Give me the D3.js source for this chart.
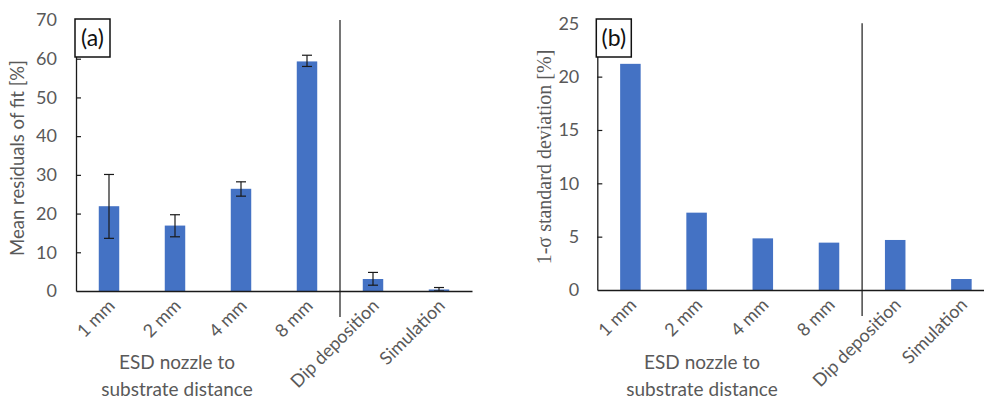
<!DOCTYPE html>
<html><head><meta charset="utf-8">
<script src="https://cdn.jsdelivr.net/npm/d3@7"></script>
<style>body{margin:0;background:#fff}svg{display:block}</style>
</head><body>
<svg id="c" width="984" height="400"></svg>
<script>
const categories = ["1 mm","2 mm","4 mm","8 mm","Dip deposition","Simulation"];
const meanResiduals = [21.9, 16.9, 26.4, 59.3, 3.1, 0.4];
const errLow = [13.6, 14.0, 24.5, 58.0, 1.5, 0.0];
const errHigh = [30.1, 19.7, 28.2, 60.9, 4.8, 0.9];
const stdDev = [21.2, 7.25, 4.84, 4.44, 4.69, 1.03];
const ticksA = [0,10,20,30,40,50,60,70];
const ticksB = [0,5,10,15,20,25];

const svg = d3.select("#c");
const grey = "#595959", blue = "#4472C4";
const sans = "Lato, 'Open Sans', sans-serif";

function panel(o){
  const g = svg.append("g");
  const x = d3.scaleBand().domain(categories).range([o.x0, o.x1]).paddingInner(0.69).paddingOuter(0.345);
  const y = d3.scaleLinear().domain([0, o.ymax]).range([o.y0, o.yt]);
  const ya = g.append("g").attr("transform", `translate(${o.x0},0)`)
    .call(d3.axisLeft(y).tickValues(o.ticks).tickSizeInner(-5).tickSizeOuter(0).tickPadding(o.tp));
  ya.select(".domain").attr("stroke","#1a1a1a").attr("stroke-width",1.3);
  ya.selectAll(".tick line").attr("stroke","#1a1a1a").attr("stroke-width",1.2);
  ya.selectAll(".tick").filter(d=>d===0).select("line").remove();
  ya.selectAll("text").attr("fill",grey).style("font-family",sans).style("font-size","18px");
  g.selectAll("rect.bar").data(o.values).join("rect").attr("class","bar")
    .attr("x",(d,i)=>x(categories[i])).attr("width",x.bandwidth())
    .attr("y",d=>y(d)).attr("height",d=>o.y0-y(d)).attr("fill",blue);
  if(o.lo){
    const eg = g.append("g").attr("stroke","#1a1a1a").attr("stroke-width",1.2);
    categories.forEach((c,i)=>{
      const cx = x(c)+x.bandwidth()/2;
      eg.append("line").attr("x1",cx).attr("x2",cx).attr("y1",y(o.lo[i])).attr("y2",y(o.hi[i]));
      eg.append("line").attr("x1",cx-5).attr("x2",cx+5).attr("y1",y(o.lo[i])).attr("y2",y(o.lo[i]));
      eg.append("line").attr("x1",cx-5).attr("x2",cx+5).attr("y1",y(o.hi[i])).attr("y2",y(o.hi[i]));
    });
  }
  const xa = g.append("g").attr("transform",`translate(0,${o.y0})`)
    .call(d3.axisBottom(x).tickSize(0).tickSizeOuter(0));
  xa.select(".domain").attr("stroke","#1a1a1a").attr("stroke-width",1.3);
  xa.selectAll("text").attr("fill",grey).style("font-family",sans).style("font-size","18px")
    .attr("text-anchor","end").attr("y",0).attr("dy",0)
    .attr("transform","translate(7,16) rotate(-45)");
  const step = x.step();
  const dx = o.x0 + step*4;
  g.append("line").attr("x1",dx).attr("x2",dx).attr("y1",o.yt).attr("y2",o.y0+26)
    .attr("stroke","#1a1a1a").attr("stroke-width",1.2);
  g.append("rect").attr("x",o.x0-1).attr("y",19).attr("width",35).attr("height",38)
    .attr("fill","#fff").attr("stroke","#111").attr("stroke-width",1.5);
  g.append("text").attr("x",o.x0+16.5).attr("y",46).attr("text-anchor","middle")
    .style("font-family",sans).style("font-size","23px").attr("fill","#111").text(o.label);
  const xt = g.append("text").attr("text-anchor","middle").attr("fill",grey)
    .style("font-family",sans).style("font-size","19px");
  xt.append("tspan").attr("x",o.xtc).attr("y",369).text("ESD nozzle to");
  xt.append("tspan").attr("x",o.xtc).attr("y",396).text("substrate distance");
  g.append("text").attr("transform",`translate(${o.ytx},${o.yty}) rotate(-90)`)
    .attr("text-anchor","middle").attr("fill",grey)
    .style("font-family",o.yfont).style("font-size",o.yfs).text(o.ytitle);
}

panel({x0:76, x1:472, y0:291, yt:20, ymax:70, ticks:ticksA, tp:19, values:meanResiduals,
  lo:errLow, hi:errHigh, label:"(a)", xtc:177, ytx:24, yty:158, ytitle:"Mean residuals of fit [%]",
  yfont:sans, yfs:"18.5px"});
panel({x0:597.3, x1:994.5, y0:290, yt:23.3, ymax:25, ticks:ticksB, tp:18, values:stdDev,
  label:"(b)", xtc:702, ytx:551, yty:157, ytitle:"1-σ standard deviation [%]",
  yfont:"'Liberation Serif', serif", yfs:"20px"});
</script>
</body></html>
